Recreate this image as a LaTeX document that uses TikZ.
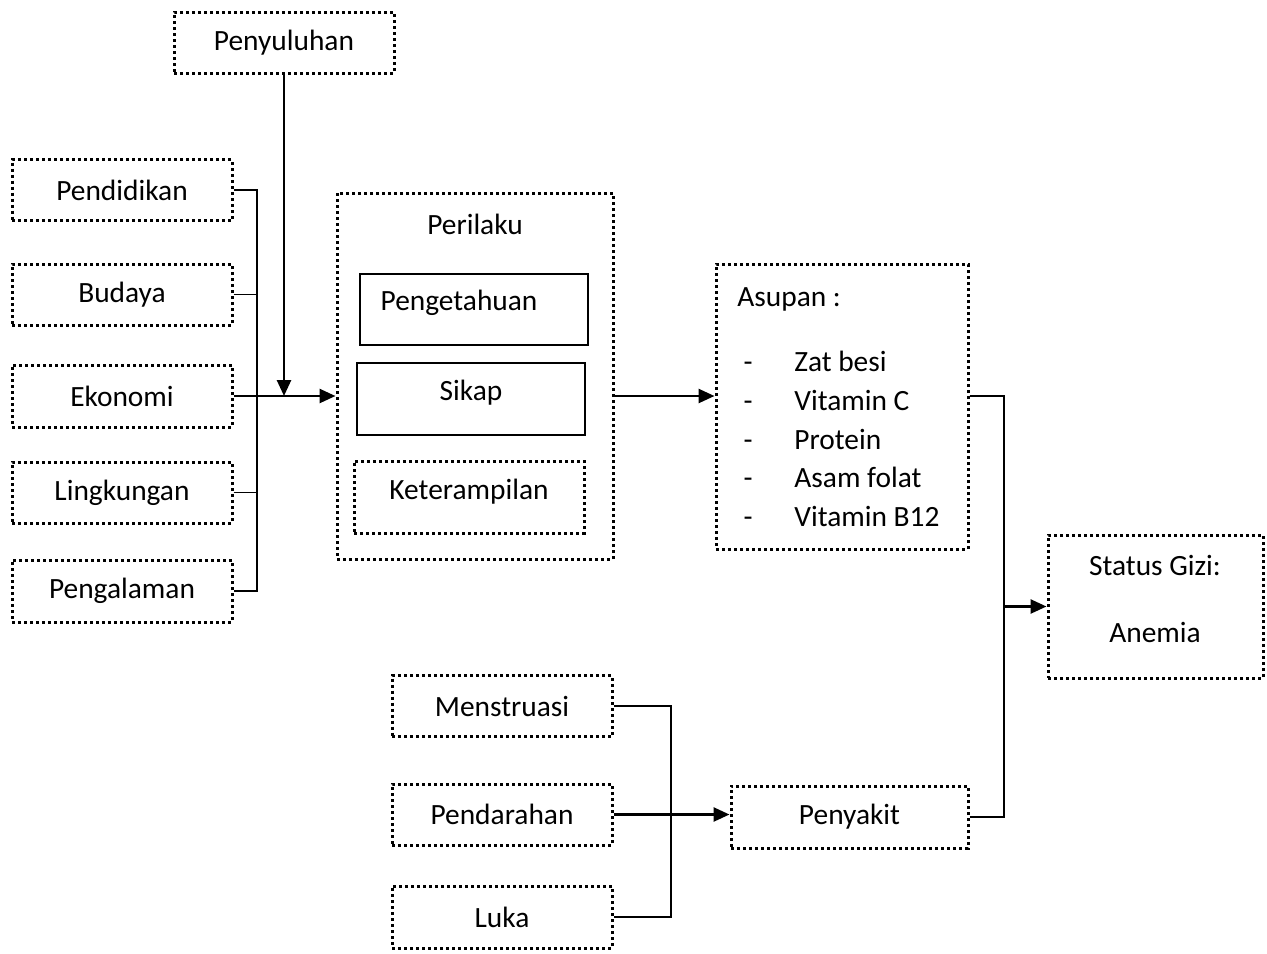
\documentclass[tikz,border=0pt]{standalone}
\usepackage{fontspec}
\setmainfont{Carlito}
\usetikzlibrary{arrows.meta}
\begin{document}
\begin{tikzpicture}[x=0.5pt,y=-0.5pt,
  font=\fontsize{14.7}{17}\selectfont,
  dbox/.style={draw, line width=1.5pt, dash pattern=on 1.5pt off 1.5pt, rectangle, inner sep=0pt, align=center},
  sbox/.style={draw, line width=0.8pt, rectangle, inner sep=0pt},
  lbl/.style={inner sep=0pt, anchor=center},
  conn/.style={line width=0.75pt},
  arr/.style={line width=1.3pt, -{Triangle[length=8pt,width=7pt]}}]
\useasboundingbox (0,0) rectangle (1267,953);
% left column
\node[dbox, minimum width=110pt, minimum height=30.5pt] (peny) at (284,42.5) {Penyuluhan};
\node[dbox, minimum width=110pt, minimum height=30.5pt] (pend) at (122,190) {Pendidikan};
\node[dbox, minimum width=110pt, minimum height=30.5pt] (buda) at (122,294.5) {Budaya};
\node[dbox, minimum width=110pt, minimum height=31pt] (ekon) at (122,396) {Ekonomi};
\node[dbox, minimum width=110pt, minimum height=30.5pt] (ling) at (122,492.5) {Lingkungan};
\node[dbox, minimum width=110pt, minimum height=31pt] (peng) at (122,591) {Pengalaman};
% Perilaku
\node[dbox, minimum width=138pt, minimum height=183pt] (peri) at (475,376) {};
\node[lbl] (perit) at (475,224) {Perilaku};
\node[sbox, minimum width=114pt, minimum height=35.5pt] (tahu) at (474,309.5) {};
\node[lbl] (tahut) at (459,303) {Pengetahuan};
\node[sbox, minimum width=114pt, minimum height=36pt] (sika) at (471,399) {};
\node[lbl] (sikat) at (471,393) {Sikap};
\node[dbox, minimum width=115pt, minimum height=36pt] (tram) at (469,497) {};
\node[lbl] (tramt) at (469,492) {Keterampilan};
% Asupan
\node[dbox, minimum width=126pt, minimum height=142.5pt] (asup) at (842,406.5) {};
\node[lbl, anchor=base west] (asupt) at (737,306) {Asupan :};
\foreach \t/\yy [count=\i] in {Zat besi/361, Vitamin C/400, Protein/439, Asam folat/477, Vitamin B12/516}{
  \node[lbl, anchor=base] (dash\i) at (748,\yy+10) {-};
  \node[lbl, anchor=base west] (item\i) at (794,\yy+10) {\t};
}
% Status
\node[dbox, minimum width=107.5pt, minimum height=71.5pt] (stat) at (1155.5,606.5) {};
\node[lbl] (statt) at (1155,565) {Status Gizi:};
\node[lbl] (anem) at (1155,632) {Anemia};
% bottom
\node[dbox, minimum width=110pt, minimum height=30.5pt] (mens) at (502,706) {Menstruasi};
\node[dbox, minimum width=110pt, minimum height=30.5pt] (pdrh) at (502,814.5) {Pendarahan};
\node[dbox, minimum width=110pt, minimum height=31pt] (luka) at (502,917) {Luka};
\node[dbox, minimum width=118.5pt, minimum height=31pt] (saki) at (849.5,817) {Penyakit};
% bracket coordinates
\coordinate (bl) at (257,0);
\coordinate (bb) at (671,0);
\coordinate (br) at (1004,0);
% left bracket
\draw[conn] (pend.east) -- (pend.east -| bl) -- (peng.east -| bl) -- (peng.east);
\draw[conn] (buda.east) -- (buda.east -| bl);
\draw[conn] (ling.east) -- (ling.east -| bl);
\draw[arr] (ekon.east) -- (ekon.east -| peri.west);
\draw[arr] (peny.south) -- (peny.south |- ekon.east);
% perilaku to asupan
\draw[arr] (ekon.east -| peri.east) -- (ekon.east -| asup.west);
% asupan + penyakit to status
\draw[conn] (ekon.east -| asup.east) -- (ekon.east -| br) -- (saki.east -| br) -- (saki.east);
\draw[arr] (stat.west -| br) -- (stat.west);
% bottom bracket
\draw[conn] (mens.east) -- (mens.east -| bb) -- (luka.east -| bb) -- (luka.east);
\draw[arr] (pdrh.east) -- (pdrh.east -| saki.west);
\end{tikzpicture}
\end{document}
